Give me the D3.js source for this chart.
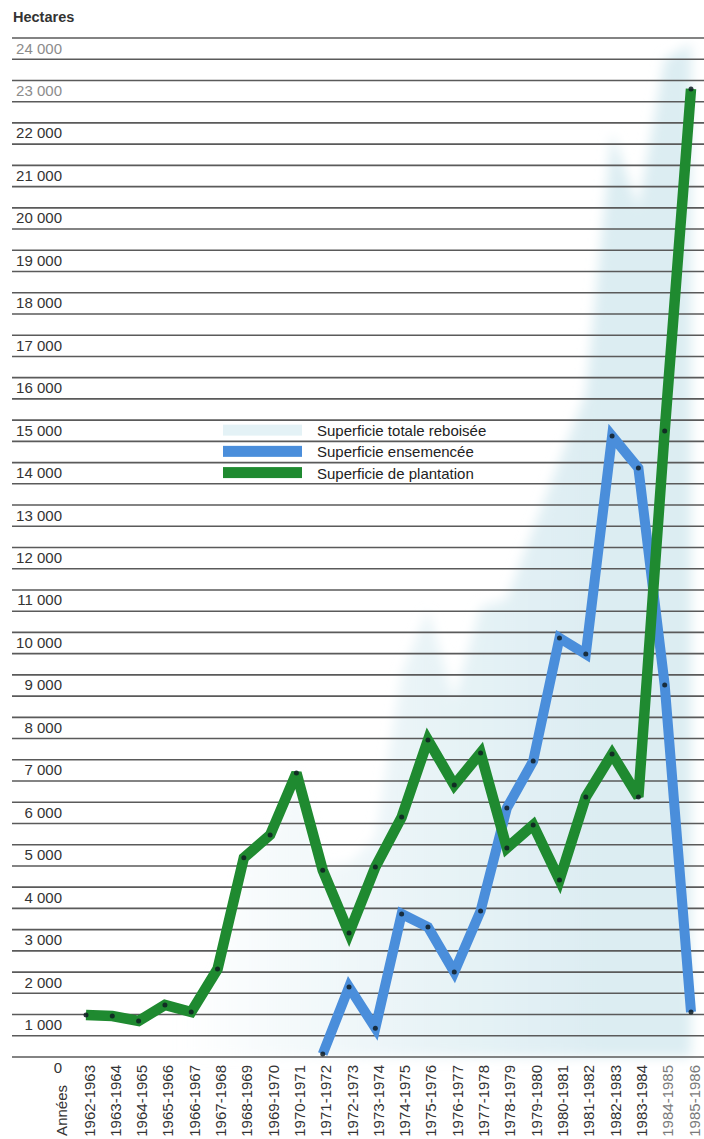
<!DOCTYPE html>
<html>
<head>
<meta charset="utf-8">
<script src="https://cdn.jsdelivr.net/npm/d3@7"></script>
<style>
  html, body { margin: 0; padding: 0; background: #ffffff; }
  svg { display: block; font-family: "Liberation Sans", Arial, Helvetica, sans-serif; }
</style>
</head>
<body>
<svg id="chart" width="704" height="1139"></svg>
<script>
// ---------- DATA ----------
const categories = ["1962-1963","1963-1964","1964-1965","1965-1966","1966-1967","1967-1968",
  "1968-1969","1969-1970","1970-1971","1971-1972","1972-1973","1973-1974","1974-1975",
  "1975-1976","1976-1977","1977-1978","1978-1979","1979-1980","1980-1981","1981-1982",
  "1982-1983","1983-1984","1984-1985","1985-1986"];

// Superficie de plantation (green)
const plantation = [990, 965, 850, 1225, 1060, 2070, 4690, 5230, 6690, 4400, 2920, 4475,
  5650, 7465, 6405, 7160, 4920, 5465, 4170, 6125, 7135, 6125, 14745, 22800];

// Superficie ensemencée (blue) — no data before 1971-1972
const ensemencee = [null, null, null, null, null, null, null, null, null, 70, 1650, 680,
  3370, 3060, 2000, 3440, 5865, 6970, 9870, 9490, 14625, 13870, 8760, 1060];

// Superficie totale reboisée (light area)
const totale = [990, 965, 850, 1225, 1060, 2070, 4690, 5230, 6690, 4470, 4570, 5155,
  9020, 10525, 8405, 10600, 10785, 12435, 14040, 15615, 21760, 19995, 23505, 23860];

const yTickValues = [0, 1000, 2000, 3000, 4000, 5000, 6000, 7000, 8000, 9000, 10000, 11000,
  12000, 13000, 14000, 15000, 16000, 17000, 18000, 19000, 20000, 21000, 22000, 23000, 24000];
const gridValues = d3.range(0, 24001, 500);

const legendItems = ["Superficie totale reboisée", "Superficie ensemencée", "Superficie de plantation"];
const yTitle = "Hectares";
const xTitle = "Années";

// ---------- STYLE ----------
const COLORS = { green: "#1f8a30", blue: "#4a8edb", area: "#dcedf2", grid: "#5a5a5a", dot: "#0f1c22" };

const svg = d3.select("#chart");

const x = d3.scalePoint().domain(categories).range([86, 691]);
const y = d3.scaleLinear().domain([0, 24000]).range([1057, 38]);

// gradient for the total area (fades to white towards the left)
const defs = svg.append("defs");
const grad = defs.append("linearGradient").attr("id", "areaGrad")
  .attr("gradientUnits", "userSpaceOnUse")
  .attr("x1", 0).attr("y1", 0).attr("x2", 704).attr("y2", 0);
grad.append("stop").attr("offset", 0.25).attr("stop-color", COLORS.area).attr("stop-opacity", 0);
grad.append("stop").attr("offset", 0.55).attr("stop-color", COLORS.area).attr("stop-opacity", 0.55);
grad.append("stop").attr("offset", 0.85).attr("stop-color", COLORS.area).attr("stop-opacity", 1);

const blur = defs.append("filter").attr("id", "soft").attr("x", "-10%").attr("y", "-10%")
  .attr("width", "120%").attr("height", "120%");
blur.append("feGaussianBlur").attr("stdDeviation", 6);

// area
const area = d3.area()
  .x((d, i) => x(categories[i]))
  .y0(y(0))
  .y1(d => y(d));
svg.append("path")
  .datum(totale)
  .attr("d", area)
  .attr("fill", "url(#areaGrad)")
  .attr("filter", "url(#soft)");

// gridlines
svg.append("g").selectAll("line")
  .data(gridValues)
  .join("line")
  .attr("x1", 12).attr("x2", 704)
  .attr("y1", d => y(d)).attr("y2", d => y(d))
  .attr("stroke", COLORS.grid)
  .attr("stroke-width", 1.6);

// y tick labels (right-aligned, sitting just below their line)
const fmt = v => d3.format(",")(v).replace(/,/g, " ");
svg.append("g").selectAll("text")
  .data(yTickValues)
  .join("text")
  .attr("x", 62)
  .attr("y", d => y(d) + 15.5)
  .attr("text-anchor", "end")
  .attr("font-size", 15)
  .attr("fill", d => d >= 23000 ? "#8c8c8c" : "#333333")
  .text(fmt);

// y title
svg.append("text")
  .attr("x", 13).attr("y", 22)
  .attr("font-size", 14.5)
  .attr("font-weight", "bold")
  .attr("fill", "#333333")
  .text(yTitle);

// x labels (rotated)
svg.append("g").selectAll("text")
  .data(categories)
  .join("text")
  .attr("transform", d => `translate(${x(d) + 8.5},1065) rotate(-90)`)
  .attr("text-anchor", "end")
  .attr("font-size", 15)
  .attr("fill", (d, i) => i >= 22 ? "#7a7a7a" : "#333333")
  .text(d => d);

svg.append("text")
  .attr("transform", `translate(67,1085) rotate(-90)`)
  .attr("text-anchor", "end")
  .attr("font-size", 15)
  .attr("fill", "#333333")
  .text(xTitle);

// lines
const line = d3.line()
  .defined(d => d != null)
  .x((d, i) => x(categories[i]))
  .y(d => y(d));

svg.append("path")
  .datum(ensemencee)
  .attr("d", line)
  .attr("fill", "none")
  .attr("stroke", COLORS.blue)
  .attr("stroke-width", 10)
  .attr("stroke-linejoin", "miter")
  .attr("stroke-miterlimit", 3);

svg.append("path")
  .datum(plantation)
  .attr("d", line)
  .attr("fill", "none")
  .attr("stroke", COLORS.green)
  .attr("stroke-width", 10.5)
  .attr("stroke-linejoin", "miter")
  .attr("stroke-miterlimit", 3);

// dots
const dots = [];
ensemencee.forEach((v, i) => { if (v != null) dots.push({ c: categories[i], v }); });
plantation.forEach((v, i) => dots.push({ c: categories[i], v }));
svg.append("g").selectAll("circle")
  .data(dots)
  .join("circle")
  .attr("cx", d => x(d.c))
  .attr("cy", d => y(d.v))
  .attr("r", 2.5)
  .attr("fill", COLORS.dot)
  .attr("opacity", 0.85);

// legend
const legendColors = ["#e4f2f6", COLORS.blue, COLORS.green];
const legendRows = [15000, 14500, 14000];
const lg = svg.append("g");
legendItems.forEach((t, i) => {
  const base = y(legendRows[i]) + 16;
  lg.append("rect")
    .attr("x", 223).attr("y", base - 11.5)
    .attr("width", 79).attr("height", 11)
    .attr("fill", legendColors[i]);
  lg.append("text")
    .attr("x", 317).attr("y", base)
    .attr("font-size", 15)
    .attr("fill", "#222222")
    .text(t);
});
</script>
</body>
</html>
